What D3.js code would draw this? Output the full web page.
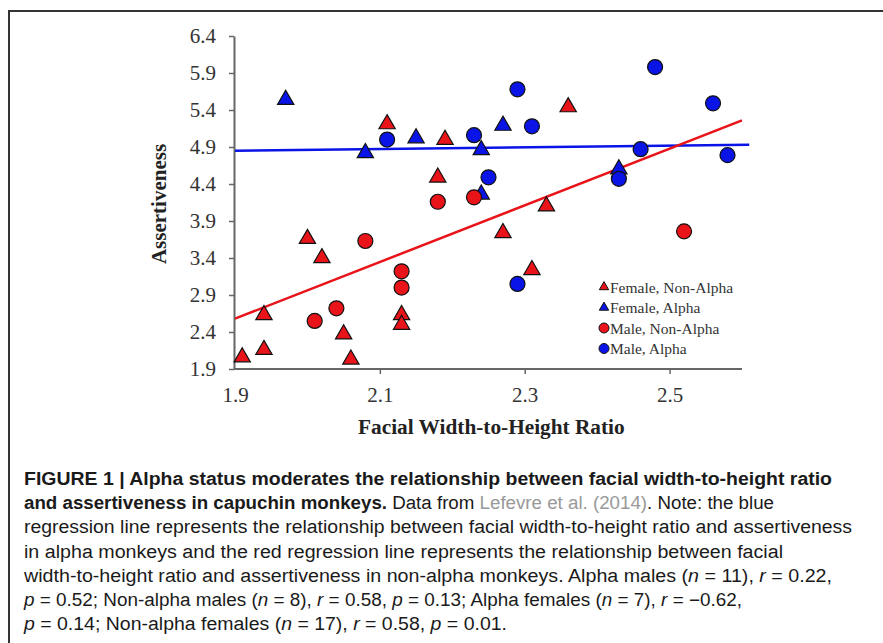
<!DOCTYPE html>
<html>
<head>
<meta charset="utf-8">
<script src="https://cdn.jsdelivr.net/npm/d3@7"></script>
<style>
  body { margin: 0; background: #fff; }
  svg { display: block; }
  .tick text { font-family: "Liberation Serif", "Times New Roman", serif; }
  .caption { font-family: "Liberation Sans", Arial, sans-serif; font-size: 18px; fill: #1a1a1a; }
</style>
</head>
<body>
<svg id="chart"></svg>
<script>
let w = 883;
let h = 643;

// female, non-alpha (red triangles)
let femNonX = [1.91, 1.94, 1.94, 2.00, 2.02, 2.05, 2.06, 2.11, 2.19, 2.13, 2.13, 2.18, 2.27, 2.36, 2.33, 2.31];
let femNonY = [2.06, 2.16, 2.63, 3.66, 3.40, 2.37, 2.03, 5.21, 5.00, 2.63, 2.50, 4.49, 3.74, 5.44, 4.10, 3.24];
// female, alpha (blue triangles)
let femAlphaX = [1.97, 2.08, 2.15, 2.24, 2.24, 2.27, 2.43];
let femAlphaY = [5.54, 4.82, 5.02, 4.86, 4.26, 5.19, 4.60];
// male, non-alpha (red circles)
let maleNonX = [2.01, 2.04, 2.08, 2.13, 2.13, 2.18, 2.23, 2.52];
let maleNonY = [2.55, 2.72, 3.63, 3.22, 3.00, 4.16, 4.22, 3.76];
// male, alpha (blue circles)
let maleAlphaX = [2.11, 2.23, 2.29, 2.31, 2.25, 2.29, 2.48, 2.46, 2.43, 2.56, 2.58];
let maleAlphaY = [5.00, 5.06, 5.68, 5.18, 4.49, 3.05, 5.98, 4.87, 4.47, 5.49, 4.79];

// regression lines (endpoints in data units)
let blueLineX = [1.9, 2.61];
let blueLineY = [4.85, 4.93];
let redLineX = [1.9, 2.60];
let redLineY = [2.58, 5.26];

let xTicks = [1.9, 2.1, 2.3, 2.5];
let yTicks = [1.9, 2.4, 2.9, 3.4, 3.9, 4.4, 4.9, 5.4, 5.9, 6.4];
let legendLabels = ["Female, Non-Alpha", "Female, Alpha", "Male, Non-Alpha", "Male, Alpha"];

let red = "#e8141a";
let blue = "#0a14e6";

let svg = d3.select("#chart").attr("width", w).attr("height", h);

let xScale = d3.scaleLinear().domain([1.9, 2.6]).range([235, 742]);
let yScale = d3.scaleLinear().domain([1.9, 6.4]).range([369, 36]);

// frame
svg.append("path")
  .attr("d", "M9,643 V11 H883")
  .attr("fill", "none")
  .attr("stroke", "#333")
  .attr("stroke-width", 2);

// AXES
let xAxis = d3.axisBottom(xScale).tickValues(xTicks).tickFormat(d3.format(".1f")).tickSize(5).tickSizeOuter(0);
let yAxis = d3.axisLeft(yScale).tickValues(yTicks).tickFormat(d3.format(".1f")).tickSize(5).tickSizeOuter(0);

let xAxisGroup = svg.append("g")
  .attr("transform", `translate(0, ${yScale(1.9)})`)
  .call(xAxis);
xAxisGroup.select(".domain").attr("d", `M${xScale(1.9) - 1},0H${xScale(2.6)}`);

let yAxisGroup = svg.append("g")
  .attr("transform", `translate(${xScale(1.9) - 1}, 0)`)
  .call(yAxis);

svg.selectAll(".domain").attr("stroke", "#666").attr("stroke-width", 2);
svg.selectAll(".tick line").attr("stroke", "#666").attr("stroke-width", 1.5);
svg.selectAll(".tick text").attr("font-size", 21).attr("fill", "#333");
xAxisGroup.selectAll(".tick text").attr("dy", "1.2em");
yAxisGroup.selectAll(".tick text").attr("x", -18);
xAxisGroup.selectAll(".tick").filter((d) => d === 1.9).select("line").remove();

// axis titles
svg.append("text")
  .attr("x", xScale(2.254))
  .attr("y", 434)
  .attr("text-anchor", "middle")
  .attr("font-family", "Liberation Serif, Times New Roman, serif")
  .attr("font-weight", "bold")
  .attr("font-size", 21.3)
  .attr("fill", "#222")
  .text("Facial Width-to-Height Ratio");

svg.append("text")
  .attr("transform", `translate(166, ${yScale(4.13)}) rotate(-90)`)
  .attr("text-anchor", "middle")
  .attr("font-family", "Liberation Serif, Times New Roman, serif")
  .attr("font-weight", "bold")
  .attr("font-size", 21)
  .attr("fill", "#222")
  .text("Assertiveness");

// regression lines
let line = d3.line().x((d) => xScale(d[0])).y((d) => yScale(d[1]));
svg.append("path")
  .attr("d", line(d3.zip(blueLineX, blueLineY)))
  .attr("stroke", blue).attr("stroke-width", 2.5).attr("fill", "none");
svg.append("path")
  .attr("d", line(d3.zip(redLineX, redLineY)))
  .attr("stroke", red).attr("stroke-width", 2.5).attr("fill", "none");

// points
let tri = d3.symbol(d3.symbolTriangle, 115);

function drawTriangles(xs, ys, color) {
  svg.append("g").selectAll("path")
    .data(d3.zip(xs, ys))
    .enter()
    .append("path")
    .attr("d", tri)
    .attr("transform", (d) => `translate(${xScale(d[0])}, ${yScale(d[1])})`)
    .attr("fill", color)
    .attr("stroke", "#111")
    .attr("stroke-width", 1.2);
}

function drawCircles(xs, ys, color) {
  svg.append("g").selectAll("circle")
    .data(d3.zip(xs, ys))
    .enter()
    .append("circle")
    .attr("cx", (d) => xScale(d[0]))
    .attr("cy", (d) => yScale(d[1]))
    .attr("r", 7.5)
    .attr("fill", color)
    .attr("stroke", "#111")
    .attr("stroke-width", 1.2);
}

drawTriangles(femNonX, femNonY, red);
drawTriangles(femAlphaX, femAlphaY, blue);
drawCircles(maleNonX, maleNonY, red);
drawCircles(maleAlphaX, maleAlphaY, blue);

// legend
let legend = svg.append("g").attr("transform", "translate(604, 288)");
legendLabels.forEach((lab, i) => {
  let g = legend.append("g").attr("transform", `translate(0, ${i * 20.5})`);
  let color = (i % 2 === 0) ? red : blue;
  if (i < 2) {
    g.append("path").attr("d", d3.symbol(d3.symbolTriangle, 38)).attr("transform", "translate(0,-1)")
      .attr("fill", color).attr("stroke", "#111").attr("stroke-width", 1);
  } else {
    g.append("circle").attr("r", 5).attr("cy", -1)
      .attr("fill", color).attr("stroke", "#111").attr("stroke-width", 1);
  }
  g.append("text")
    .attr("x", 6).attr("y", 4.5)
    .attr("font-family", "Liberation Serif, Times New Roman, serif")
    .attr("font-size", 15.5)
    .attr("fill", "#333")
    .text(lab);
});

// caption
let capLines = [
  [["FIGURE 1 | Alpha status moderates the relationship between facial width-to-height ratio", "b"]],
  [["and assertiveness in capuchin monkeys.", "b"], [" Data from ", ""], ["Lefevre et al. (2014)", "g"], [". Note: the blue", ""]],
  [["regression line represents the relationship between facial width-to-height ratio and assertiveness", ""]],
  [["in alpha monkeys and the red regression line represents the relationship between facial", ""]],
  [["width-to-height ratio and assertiveness in non-alpha monkeys. Alpha males (", ""], ["n", "i"], [" = 11), ", ""], ["r", "i"], [" = 0.22,", ""]],
  [["p", "i"], [" = 0.52; Non-alpha males (", ""], ["n", "i"], [" = 8), ", ""], ["r", "i"], [" = 0.58, ", ""], ["p", "i"], [" = 0.13; Alpha females (", ""], ["n", "i"], [" = 7), ", ""], ["r", "i"], [" = \u22120.62,", ""]],
  [["p", "i"], [" = 0.14; Non-alpha females (", ""], ["n", "i"], [" = 17), ", ""], ["r", "i"], [" = 0.58, ", ""], ["p", "i"], [" = 0.01.", ""]]
];
// right edge of each caption line in the reference
let capEnds = [832, 774, 852, 783, 832, 742, 507];

capLines.forEach((parts, i) => {
  let t = svg.append("text")
    .attr("class", "caption")
    .attr("x", 24)
    .attr("y", 485 + i * 24.2)
    .attr("xml:space", "preserve")
    .attr("textLength", capEnds[i] - 24)
    .attr("lengthAdjust", "spacingAndGlyphs");
  parts.forEach((p) => {
    let s = t.append("tspan").text(p[0]);
    if (p[1] === "b") s.attr("font-weight", "bold");
    if (p[1] === "i") s.attr("font-style", "italic");
    if (p[1] === "g") s.attr("fill", "#999");
  });
});
</script>
</body>
</html>
